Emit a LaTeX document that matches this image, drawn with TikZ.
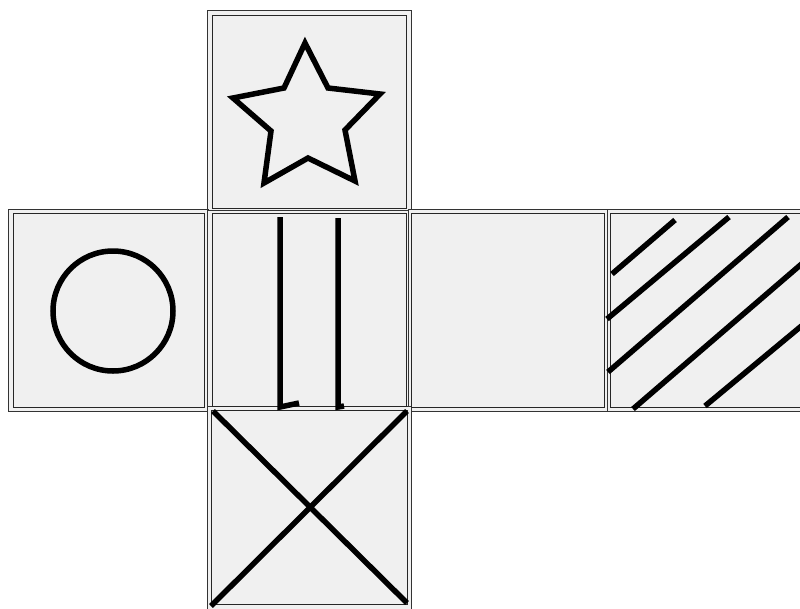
\documentclass[tikz,border=0pt]{standalone}
\begin{document}
\begin{tikzpicture}[x=1pt, y=-1pt,
  outer/.style={draw=black!80, fill=black!6, line width=1pt},
  inner/.style={draw=black!85, line width=1pt},
  symbol/.style={draw=black, line width=5.5pt}]
  \useasboundingbox (0,0) rectangle (800,608);
  \clip (0,0) rectangle (800,608);
  % outer frames
  \draw[outer] (207,10) rectangle (411,212);
  \draw[outer] (8,209) rectangle (208,411);
  \draw[outer] (207,210) rectangle (410,410);
  \draw[outer] (408,209) rectangle (609,411);
  \draw[outer] (607,209) rectangle (812,411);
  \draw[outer] (207,406) rectangle (411,618);
  % inner frames
  \draw[inner] (212,15) rectangle (406,208);
  \draw[inner] (13,213) rectangle (204,407);
  \draw[inner] (212,213) rectangle (406,406);
  \draw[inner] (411,213) rectangle (604,407);
  \draw[inner] (610,213) rectangle (812,407);
  \draw[inner] (211,410) rectangle (407,604);
  % star
  \draw[symbol, line join=miter] (305,43) -- (328,88) -- (380,94) -- (345,130) -- (355,181)
    -- (308,158) -- (264,183) -- (271,131) -- (233,98) -- (284,88) -- cycle;
  % circle
  \draw[symbol] (113,311) circle (60);
  % two bars
  \draw[symbol] (280,217) -- (280,407) -- (299,403);
  \draw[symbol] (338,218) -- (338,407) -- (344,406);
  % cross
  \draw[symbol] (213,411) -- (407,603);
  \draw[symbol] (407,411) -- (211,606);
  % hatching
  \draw[symbol] (612,274) -- (675,220);
  \draw[symbol] (607,319) -- (729,217);
  \draw[symbol] (608,372) -- (788,217);
  \draw[symbol] (633,409) -- (805,261);
  \draw[symbol] (705,406) -- (805,323);
\end{tikzpicture}
\end{document}
